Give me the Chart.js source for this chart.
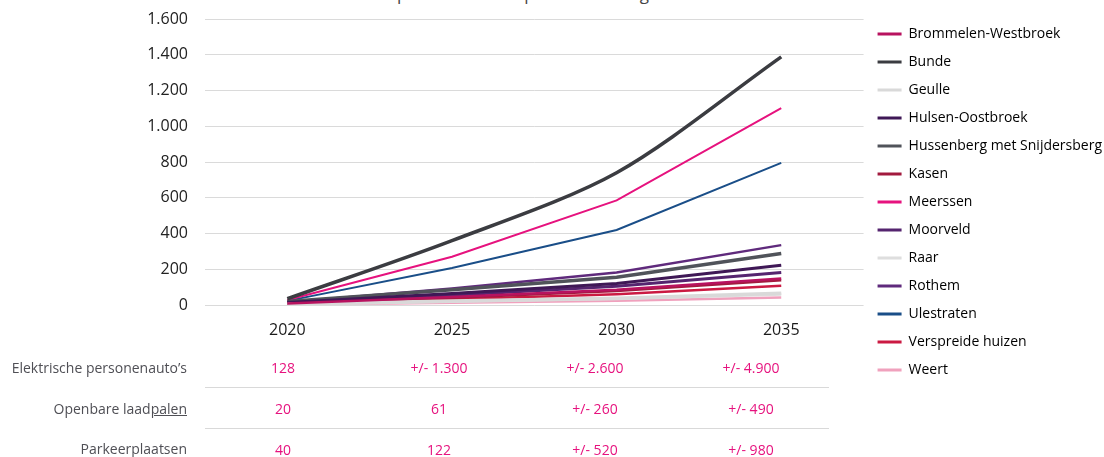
<!DOCTYPE html>
<html>
<head>
<meta charset="utf-8">
<script src="https://cdn.jsdelivr.net/npm/chart.js@4.4.0/dist/chart.umd.min.js"></script>
<style>
  body { margin: 0; width: 1104px; height: 457px; overflow: hidden; background: #fff; position: relative; font-family: "Open Sans", sans-serif; }
  #chart { position: absolute; left: 0; top: 0; }
  #title { position: absolute; top: -16px; left: 259px; font-size: 17px; line-height: 20px; color: #444; white-space: nowrap; }
  #tabel { position: absolute; left: 0; top: 347px; border-collapse: collapse; font-size: 14px; }
  #tabel td { height: 40px; padding: 0; text-align: center; color: #e6127e; width: 156px; }
  #tabel td.label { width: 205px; text-align: right; padding-right: 18px; box-sizing: border-box; color: #4f4f55; }
  #tabel tr.sep td:not(.label) { border-bottom: 1px solid #d9d9d9; }
  #tabel u { text-decoration: underline; }
</style>
</head>
<body>
<div id="title">Groei elektrische personenauto’s per woonkern gemeente Meerssen</div>
<canvas id="chart" width="1104" height="457"></canvas>
<table id="tabel"></table>
<script>
// categories
const years = ['2020', '2025', '2030', '2035'];

// series (aantal elektrische auto's per kern)
const brommelenWestbroek = [8, 45, 85, 148];
const bunde = [35, 360, 740, 1388];
const geulle = [4, 22, 38, 66];
const hulsenOostbroek = [14, 65, 120, 222];
const hussenberg = [20, 85, 155, 288];
const kasen = [6, 40, 78, 138];
const meerssen = [28, 270, 585, 1102];
const moorveld = [12, 55, 105, 182];
const raar = [3, 20, 35, 60];
const rothem = [16, 92, 182, 335];
const ulestraten = [23, 207, 420, 795];
const verspreideHuizen = [5, 32, 60, 108];
const weert = [2, 12, 24, 42];

// table below the chart
const autos = ['128', '+/- 1.300', '+/- 2.600', '+/- 4.900'];
const laadpalen = ['20', '61', '+/- 260', '+/- 490'];
const parkeerplaatsen = ['40', '122', '+/- 520', '+/- 980'];

function fmt(v) {
  return String(v).replace(/\B(?=(\d{3})+(?!\d))/g, '.');
}

function line(label, data, color, width, tension) {
  return {
    label: label,
    data: data,
    borderColor: color,
    backgroundColor: color,
    borderWidth: width,
    pointRadius: 0,
    fill: false,
    tension: tension || 0
  };
}

const ctx = document.getElementById('chart').getContext('2d');
new Chart(ctx, {
  type: 'line',
  data: {
    labels: years,
    datasets: [
      line('Brommelen-Westbroek', brommelenWestbroek, '#b8125f', 2.5),
      line('Bunde', bunde, '#3b3c41', 3.5, 0.3),
      line('Geulle', geulle, '#d9d9d9', 3.5),
      line('Hulsen-Oostbroek', hulsenOostbroek, '#3f1856', 3),
      line('Hussenberg met Snijdersberg', hussenberg, '#50535a', 3.5),
      line('Kasen', kasen, '#a21a3e', 2.5),
      line('Meerssen', meerssen, '#e6127e', 2),
      line('Moorveld', moorveld, '#55246f', 3),
      line('Raar', raar, '#dedede', 3),
      line('Rothem', rothem, '#5f2a7c', 2.5),
      line('Ulestraten', ulestraten, '#1a4e88', 2),
      line('Verspreide huizen', verspreideHuizen, '#cb1a42', 2.5),
      line('Weert', weert, '#f0a1bd', 2.5)
    ]
  },
  options: {
    responsive: false,
    animation: false,
    layout: { padding: { top: 13, right: -8, bottom: 0, left: 0 } },
    plugins: {
      title: { display: false },
      tooltip: { enabled: false },
      legend: {
        position: 'right',
        align: 'start',
        labels: {
          boxWidth: 24,
          boxHeight: 3,
          padding: 14,
          color: '#151515',
          font: { family: 'Open Sans', size: 14 },
          generateLabels: function(chart) {
            return chart.data.datasets.map(function(ds, i) {
              return { text: ds.label, fillStyle: ds.borderColor, strokeStyle: ds.borderColor, lineWidth: 0, hidden: false, datasetIndex: i };
            });
          }
        }
      }
    },
    scales: {
      x: {
        offset: true,
        grid: { display: false },
        border: { display: false },
        ticks: { padding: 8, color: '#1a1a1a', font: { family: 'Open Sans', size: 16 } },
        afterFit: function(scale) { scale.height = 152; }
      },
      y: {
        min: 0,
        max: 1600,
        grid: { color: '#dadada', drawTicks: false },
        border: { display: false },
        ticks: {
          stepSize: 200,
          autoSkip: false,
          padding: 17,
          color: '#222',
          font: { family: 'Open Sans', size: 16 },
          callback: function(v) { return fmt(v); }
        },
        afterFit: function(scale) {
          scale.width = 205;
          scale.paddingTop = 19;
        }
      }
    }
  }
});

// build the table
const rows = [
  ['Elektrische personenauto’s', autos, true],
  ['Openbare laad<u>palen</u>', laadpalen, true],
  ['Parkeerplaatsen', parkeerplaatsen, false]
];
const tabel = document.getElementById('tabel');
rows.forEach(function(r) {
  const tr = document.createElement('tr');
  if (r[2]) tr.className = 'sep';
  let html = '<td class="label">' + r[0] + '</td>';
  r[1].forEach(function(v) { html += '<td>' + v + '</td>'; });
  tr.innerHTML = html;
  tabel.appendChild(tr);
});
</script>
</body>
</html>
